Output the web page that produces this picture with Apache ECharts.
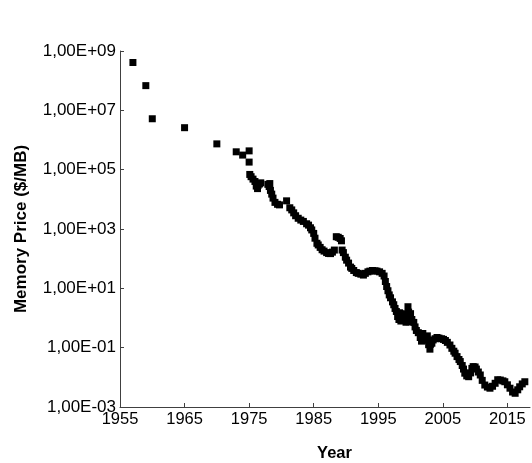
<!DOCTYPE html>
<html>
<head>
<meta charset="utf-8">
<script src="https://cdn.jsdelivr.net/npm/echarts@6/dist/echarts.min.js"></script>
<style>
html,body{margin:0;padding:0;background:#fff;}
#chart{width:532px;height:463px;}
</style>
</head>
<body>
<div id="chart"></div>
<script>
// Year (decimal) and memory price in $/MB
const years = [
  1957, 1959, 1960, 1965, 1970, 1973, 1974, 1975.0, 1975.0,
  1975.1, 1975.3, 1975.6, 1975.9, 1976.1, 1976.3, 1976.6, 1976.8,
  1977.9, 1978.1, 1978.3, 1978.5, 1978.7, 1979.0, 1979.4, 1979.7,
  1980.8, 1981.3, 1981.6, 1981.9, 1982.2, 1982.6, 1983.0, 1983.4, 1983.9,
  1984.2, 1984.5, 1984.7, 1985.0, 1985.2, 1985.5, 1985.7, 1986.0, 1986.3,
  1986.6, 1987.0, 1987.3, 1987.6, 1987.9, 1988.2, 1988.5, 1988.8, 1989.1,
  1989.3, 1989.4, 1989.6, 1989.9, 1990.1, 1990.4, 1990.7, 1990.9, 1991.2,
  1991.6, 1991.9, 1992.3, 1992.7, 1993.0, 1993.4, 1993.7, 1994.1, 1994.5,
  1994.8, 1995.2, 1995.6, 1995.9, 1996.1, 1996.3, 1996.5, 1996.7, 1996.9,
  1997.2, 1997.4, 1997.6, 1997.8, 1998.0, 1998.2, 1998.5, 1998.8, 1999.1,
  1999.4, 1999.6, 1999.7, 1999.9, 2000.2, 2000.5, 2000.7, 2000.9, 2001.2,
  2001.5, 2001.7, 2002.0, 2002.2, 2002.5, 2002.8, 2003.0, 2003.3, 2003.5,
  2003.8, 2004.1, 2004.4, 2004.8, 2005.1, 2005.4, 2005.7, 2006.1, 2006.4,
  2006.7, 2006.9, 2007.2, 2007.5, 2007.7, 2008.0, 2008.2, 2008.4, 2008.7,
  2009.0, 2009.3, 2009.5, 2009.7, 2010.0, 2010.2, 2010.5, 2010.8, 2011.1,
  2011.5, 2011.9, 2012.3, 2012.7, 2013.1, 2013.5, 2013.9, 2014.3, 2014.6,
  2015.0, 2015.4, 2015.8, 2016.2, 2016.6, 2016.9, 2017.3, 2017.7,
  1998.3, 1998.9, 1999.3, 1999.8, 2000.0, 2001.9, 2002.6, 2003.1, 1976.4, 1978.2
];
const prices = [
  4.1e8, 6.8e7, 5.2e6, 2.6e6, 7.4e5, 4.0e5, 3.1e5, 4.3e5, 1.8e5,
  6.9e4, 5.8e4, 4.8e4, 4.0e4, 2.8e4, 2.3e4, 3.3e4, 3.6e4,
  3.2e4, 2.7e4, 2.0e4, 1.5e4, 1.1e4, 7.9e3, 6.8e3, 6.5e3,
  8.9e3, 5.2e3, 4.4e3, 3.5e3, 2.8e3, 2.3e3, 2.0e3, 1.8e3, 1.5e3,
  1350, 1100, 930, 710, 490, 330, 290, 240, 200,
  180, 160, 150, 148, 166, 195, 550, 525, 480,
  400, 195, 160, 112, 89, 71, 52, 47, 40,
  34, 32, 30, 28, 32, 36, 38, 40, 39,
  38, 36, 32, 26, 17, 11.5, 8.3, 6.0, 4.8,
  3.5, 2.8, 2.1, 1.66, 1.12, 0.89, 0.79, 0.83, 1.0,
  1.26, 2.4, 1.58, 1.12, 0.89, 0.71, 0.5, 0.38, 0.32,
  0.22, 0.166, 0.19, 0.23, 0.178, 0.126, 0.089, 0.141, 0.182,
  0.2, 0.22, 0.21, 0.2, 0.19, 0.174, 0.151, 0.123, 0.095,
  0.076, 0.065, 0.05, 0.04, 0.034, 0.025, 0.019, 0.0138, 0.0112,
  0.0105, 0.0141, 0.02, 0.023, 0.0224, 0.019, 0.0151, 0.012, 0.0079,
  0.0055, 0.0047, 0.0043, 0.005, 0.0063, 0.0083, 0.0081, 0.0076, 0.0071,
  0.0056, 0.0043, 0.0032, 0.0029, 0.0038, 0.0048, 0.006, 0.0071,
  1.5, 1.4, 0.72, 0.75, 1.4, 0.3, 0.25, 0.13, 3.0e4, 3.4e4
];
const xTickYears = [1955, 1965, 1975, 1985, 1995, 2005, 2015];
const yTickValues = [1e-3, 1e-1, 1e1, 1e3, 1e5, 1e7, 1e9];

const points = years.map((y, i) => [y, prices[i]]);
const font = "'Liberation Sans', Arial, sans-serif";

function sciLabel(v) {
  const e = Math.round(Math.log10(v));
  const sign = e < 0 ? '-' : '+';
  const a = Math.abs(e);
  return '1,00E' + sign + (a < 10 ? '0' + a : '' + a);
}

const chart = echarts.init(document.getElementById('chart'), null, {renderer: 'canvas'});
chart.setOption({
  animation: false,
  backgroundColor: '#ffffff',
  grid: {left: 120, right: 2, top: 51, bottom: 56, containLabel: false, outerBoundsMode: 'none'},
  xAxis: {
    type: 'value',
    min: 1955,
    max: 2018.5,
    name: 'Year',
    nameLocation: 'middle',
    nameGap: 38,
    nameTextStyle: {fontFamily: font, fontSize: 16.5, fontWeight: 'bold', color: '#000', padding: [0, 0, 0, 19]},
    axisLine: {show: true, lineStyle: {color: '#404040', width: 1}},
    axisTick: {show: true, inside: true, length: 4, lineStyle: {color: '#404040'}, customValues: xTickYears},
    axisLabel: {fontFamily: font, fontSize: 16.5, color: '#000', margin: 4, customValues: xTickYears,
      formatter: v => String(Math.round(v))},
    splitLine: {show: false}
  },
  yAxis: {
    type: 'log',
    logBase: 10,
    min: 1e-3,
    max: 1e9,
    name: 'Memory Price ($/MB)',
    nameLocation: 'middle',
    nameGap: 90,
    nameTextStyle: {fontFamily: font, fontSize: 17, fontWeight: 'bold', color: '#000'},
    axisLine: {show: true, lineStyle: {color: '#404040', width: 1}},
    axisTick: {show: true, inside: true, length: 4, lineStyle: {color: '#404040'}, customValues: yTickValues},
    axisLabel: {fontFamily: font, fontSize: 17, color: '#000', margin: 4, customValues: yTickValues,
      formatter: v => sciLabel(v)},
    splitLine: {show: false}
  },
  series: [{
    type: 'scatter',
    data: points,
    symbol: 'rect',
    symbolSize: 7,
    itemStyle: {color: '#000', opacity: 1},
    clip: false
  }]
});
</script>
</body>
</html>
